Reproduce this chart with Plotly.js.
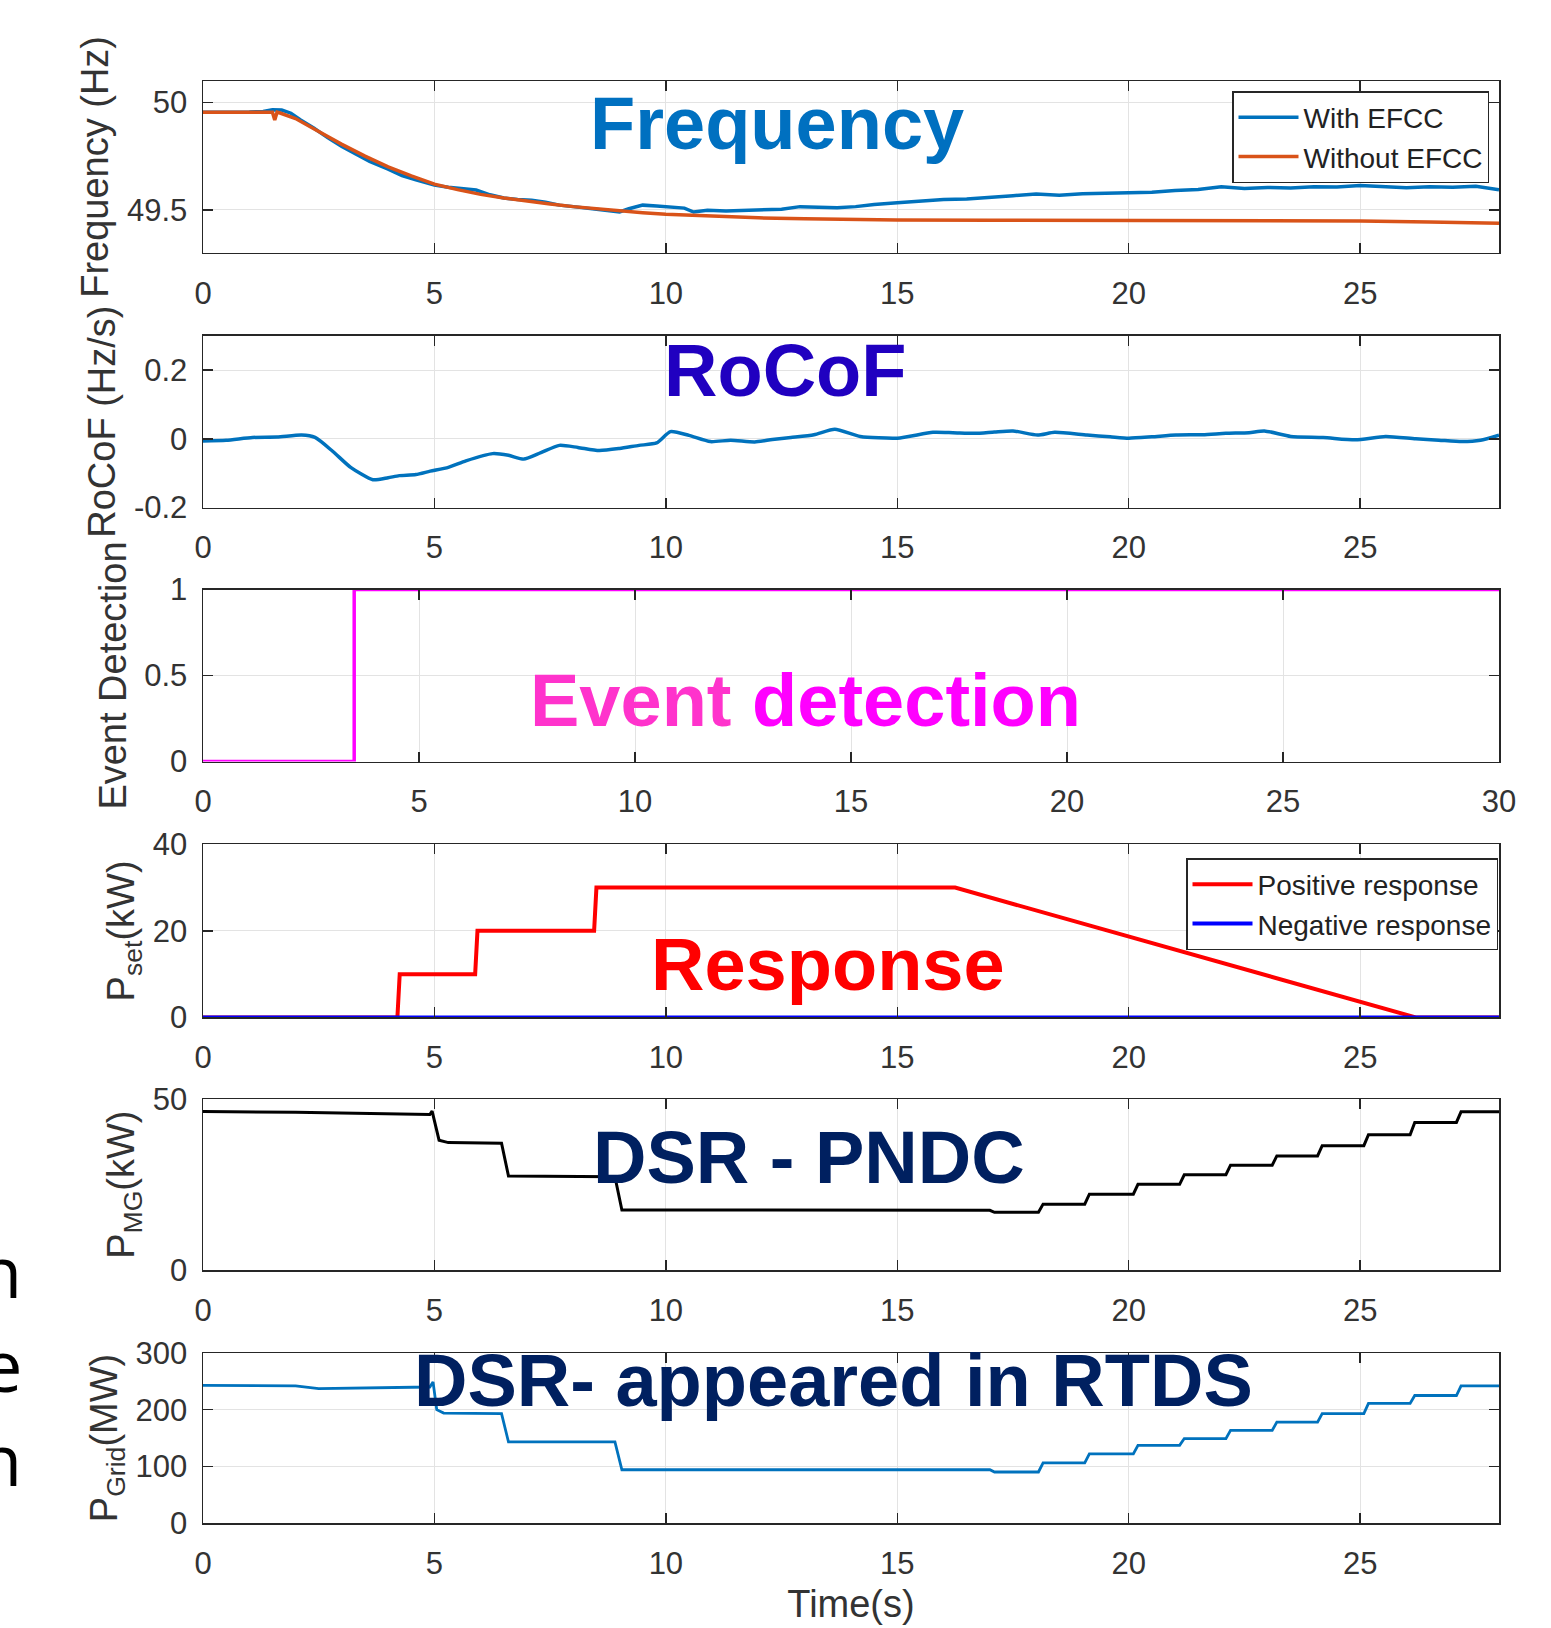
<!DOCTYPE html>
<html><head><meta charset="utf-8">
<script src="https://cdn.plot.ly/plotly-3.0.1.min.js"></script>
<style>html,body{margin:0;padding:0;background:#fff}#chart{width:1551px;height:1628px}</style>
</head><body><div id="chart"></div>
<script>
// ---------------- data ----------------
const freqWithTime = [0,0.5,1.0,1.3,1.5,1.7,1.9,2.1,2.4,2.7,3.0,3.3,3.6,4.0,4.3,4.6,5.0,5.3,5.6,5.9,6.2,6.5,6.8,7.1,7.4,7.7,8.0,8.4,8.8,9.0,9.2,9.5,9.8,10.1,10.4,10.6,10.9,11.3,11.7,12.1,12.5,12.9,13.3,13.7,14.1,14.5,15.0,15.5,16.0,16.5,17.0,17.5,18.0,18.5,19.0,19.5,20.0,20.5,21.0,21.5,22.0,22.5,23.0,23.5,24.0,24.5,25.0,25.5,26.0,26.5,27.0,27.5,28.0];
const freqWith = [49.955,49.954,49.956,49.958,49.966,49.965,49.95,49.92,49.88,49.835,49.795,49.76,49.725,49.69,49.66,49.64,49.615,49.605,49.598,49.592,49.57,49.555,49.548,49.545,49.535,49.522,49.515,49.505,49.495,49.49,49.505,49.522,49.518,49.512,49.508,49.49,49.498,49.495,49.497,49.5,49.503,49.515,49.512,49.51,49.515,49.525,49.533,49.54,49.548,49.55,49.556,49.566,49.574,49.568,49.575,49.578,49.583,49.582,49.59,49.595,49.608,49.6,49.604,49.602,49.608,49.606,49.613,49.606,49.603,49.608,49.605,49.61,49.594];
const freqWithoutTime = [0,0.5,1.0,1.5,1.55,1.6,1.65,2.0,2.5,3.0,3.5,4.0,4.5,5.0,5.5,6.0,6.5,7.0,7.5,8.0,8.5,9.0,9.5,10,11,12,13,14,15,17,20,23,25,26.5,28];
const freqWithout = [49.955,49.955,49.955,49.955,49.918,49.955,49.952,49.925,49.865,49.805,49.75,49.7,49.658,49.62,49.594,49.572,49.555,49.54,49.527,49.515,49.505,49.495,49.487,49.48,49.47,49.463,49.458,49.455,49.453,49.452,49.451,49.45,49.448,49.444,49.438];

const rocofTime = [0,0.5,1.07,1.6,2.13,2.42,2.8,3.19,3.67,4.0,4.24,4.6,4.91,5.3,5.68,6.26,6.6,6.93,7.3,7.7,8.1,8.56,9.0,9.42,9.8,10.1,10.5,10.96,11.4,11.92,12.3,12.7,13.2,13.65,14.2,15.0,15.77,16.2,16.68,17.1,17.5,18.03,18.4,19.1,19.6,20.0,20.5,21.02,21.6,22.1,22.6,22.93,23.5,24.2,24.9,25.55,26.2,26.7,27.2,27.6,28.0];
const rocof = [-0.006,-0.004,0.004,0.005,0.011,0.004,-0.036,-0.083,-0.119,-0.113,-0.107,-0.104,-0.094,-0.083,-0.064,-0.043,-0.048,-0.059,-0.04,-0.019,-0.025,-0.034,-0.028,-0.019,-0.012,0.021,0.01,-0.008,-0.004,-0.009,-0.002,0.004,0.012,0.028,0.007,0.002,0.019,0.018,0.016,0.02,0.023,0.011,0.019,0.011,0.006,0.002,0.006,0.011,0.012,0.016,0.018,0.023,0.007,0.004,-0.003,0.007,0.0,-0.004,-0.008,-0.004,0.011];

const eventTime = [0,3.5,3.5,30];
const eventDetection = [0,0,1,1];

const psetPosTime = [0,4.2,4.25,5.88,5.93,8.45,8.5,16.25,26.2,28];
const psetPositive = [0,0,10,10,20,20,30,30,0,0];
const psetNegTime = [0,28];
const psetNegative = [0,0];

const pmgTime = [0,2,4.9,4.95,5.1,5.3,6.45,6.6,8.9,9.05,12,17.0,17.1,18.05,18.15,19.05,19.15,20.1,20.2,21.1,21.2,22.1,22.2,23.1,23.2,24.08,24.18,25.08,25.18,26.08,26.18,27.08,27.18,28];
const pmg = [46.4,46.2,45.5,46.5,38,37.3,37.1,27.5,27.3,17.6,17.6,17.5,16.9,16.9,19.3,19.3,22.2,22.2,25.1,25.1,27.9,27.9,30.7,30.7,33.4,33.4,36.4,36.4,39.6,39.6,43.2,43.2,46.3,46.3];

const gridTime = [0,2.0,2.5,4.9,4.97,5.05,5.2,6.45,6.6,8.9,9.05,17.0,17.1,18.05,18.15,19.05,19.15,20.1,20.2,21.1,21.2,22.1,22.2,23.1,23.2,24.08,24.18,25.08,25.18,26.08,26.18,27.08,27.18,28];
const pGrid = [243,242,237,240,249,200,194,193,143,143,94,94,90,90,106,106,122,122,137,137,149,149,163.5,163.5,178,178,193,193,211,211,225,225,242,242];

const xTicks = [0,5,10,15,20,25,30];
const freqTicks = [49.5,50];
const rocofTicks = [-0.2,0,0.2];
const rocofTickText = ['-0.2','0','0.2'];
const eventTicks = [0,0.5,1];
const psetTicks = [0,20,40];
const pmgTicks = [0,50];
const gridTicks = [0,100,200,300];

// ---------------- layout helpers ----------------
const W = 1551, H = 1628, L = 203, R = 52, T = 81, B = 105;
const PW = W - L - R, PH = H - T - B;
const px2x = x => (x - L) / PW;
const px2y = y => (H - B - y) / PH;
const panels = [[80.8,252.8],[335.7,507.6],[589.5,761.5],[844.3,1017.4],[1099.2,1270.1],[1353,1523]];
const dom = i => [px2y(panels[i][1]), Math.min(1, px2y(panels[i][0]))];

const FONT = '"Liberation Sans", Arial, Helvetica, sans-serif';
const AX = '#262626';
const GRID = '#E3E3E3';

function xAxis(i, range) {
  const anchor = i === 0 ? 'y' : 'y' + (i + 1);
  return {
    domain: [0, 1], anchor: anchor, range: range,
    tickvals: xTicks, ticks: 'inside', ticklen: 10, tickwidth: 1.5, tickcolor: AX,
    showline: true, linecolor: AX, linewidth: 1.5, mirror: 'ticks',
    showgrid: true, gridcolor: GRID, gridwidth: 1, zeroline: false,
    tickfont: {family: FONT, size: 31, color: '#333'}, ticklabelstandoff: 12
  };
}
function yAxis(i, range, ticks, title, standoff, ticktext) {
  const anchor = i === 0 ? 'x' : 'x' + (i + 1);
  const ax = {
    domain: dom(i), anchor: anchor, range: range,
    tickvals: ticks, ticks: 'inside', ticklen: 10, tickwidth: 1.5, tickcolor: AX,
    showline: true, linecolor: AX, linewidth: 1.5, mirror: 'ticks',
    showgrid: true, gridcolor: GRID, gridwidth: 1, zeroline: false,
    tickfont: {family: FONT, size: 31, color: '#333'}, ticklabelstandoff: 8,
    title: {text: title, font: {family: FONT, size: 38, color: '#333'}, standoff: standoff}
  };
  if (ticktext) ax.ticktext = ticktext;
  return ax;
}

const traces = [
  {x: freqWithTime, y: freqWith, xaxis: 'x', yaxis: 'y', mode: 'lines', name: 'With EFCC',
   line: {color: '#0072BD', width: 3.5}, legend: 'legend'},
  {x: freqWithoutTime, y: freqWithout, xaxis: 'x', yaxis: 'y', mode: 'lines', name: 'Without EFCC',
   line: {color: '#D95319', width: 3.5}, legend: 'legend'},
  {x: rocofTime, y: rocof, xaxis: 'x2', yaxis: 'y2', mode: 'lines', name: 'RoCoF',
   line: {color: '#0072BD', width: 3.5, shape: 'spline', smoothing: 0.6}, showlegend: false},
  {x: eventTime, y: eventDetection, xaxis: 'x3', yaxis: 'y3', mode: 'lines', name: 'Event',
   line: {color: '#FF00FF', width: 3.5}, showlegend: false},
  {x: psetPosTime, y: psetPositive, xaxis: 'x4', yaxis: 'y4', mode: 'lines', name: 'Positive response',
   line: {color: '#FF0000', width: 4}, legend: 'legend2'},
  {x: psetNegTime, y: psetNegative, xaxis: 'x4', yaxis: 'y4', mode: 'lines', name: 'Negative response',
   line: {color: '#0000FF', width: 4}, legend: 'legend2'},
  {x: pmgTime, y: pmg, xaxis: 'x5', yaxis: 'y5', mode: 'lines', name: 'PMG',
   line: {color: '#000000', width: 3}, showlegend: false},
  {x: gridTime, y: pGrid, xaxis: 'x6', yaxis: 'y6', mode: 'lines', name: 'PGrid',
   line: {color: '#0072BD', width: 2.8}, showlegend: false}
];

function label(text, cx, cy, color) {
  return {xref: 'paper', yref: 'paper', x: px2x(cx), y: px2y(cy), xanchor: 'center', yanchor: 'middle',
    text: '<b>' + text + '</b>', showarrow: false,
    font: {family: FONT, size: 74, color: color}};
}
function edge(text, cy) {
  return {xref: 'paper', yref: 'paper', x: px2x(24), y: px2y(cy), xanchor: 'right', yanchor: 'middle',
    text: text, showarrow: false, font: {family: '"Open Sans", "Noto Sans", sans-serif', size: 72, color: '#000'}};
}

const xa6 = xAxis(5, [0, 28]);
xa6.title = {text: 'Time(s)', font: {family: FONT, size: 38, color: '#333'}, standoff: 10};

const legendStyle = {xanchor: 'right', yanchor: 'top', bgcolor: '#fff',
  bordercolor: AX, borderwidth: 1.5, font: {family: FONT, size: 28, color: '#222'}, itemwidth: 60};

const layout = {
  width: W, height: H,
  margin: {l: L, r: R, t: T, b: B, autoexpand: false},
  paper_bgcolor: '#fff', plot_bgcolor: '#fff',
  font: {family: FONT, color: AX},
  xaxis: xAxis(0, [0, 28]), xaxis2: xAxis(1, [0, 28]), xaxis3: xAxis(2, [0, 30]),
  xaxis4: xAxis(3, [0, 28]), xaxis5: xAxis(4, [0, 28]), xaxis6: xa6,
  yaxis: yAxis(0, [49.3, 50.1], freqTicks, 'Frequency (Hz)', 6),
  yaxis2: yAxis(1, [-0.2, 0.3], rocofTicks, 'RoCoF (Hz/s)', 6, rocofTickText),
  yaxis3: yAxis(2, [0, 1], eventTicks, 'Event Detection', 6),
  yaxis4: yAxis(3, [0, 40], psetTicks, 'P<sub>set</sub>(kW)', 6),
  yaxis5: yAxis(4, [0, 50], pmgTicks, 'P<sub>MG</sub>(kW)', 6),
  yaxis6: yAxis(5, [0, 300], gridTicks, 'P<sub>Grid</sub>(MW)', 6),
  legend: Object.assign({x: px2x(1489), y: px2y(91)}, legendStyle),
  legend2: Object.assign({x: px2x(1498), y: px2y(858)}, legendStyle),
  annotations: [
    label('Frequency', 777, 124, '#0070C0'),
    label('RoCoF', 785, 370, '#2000C0'),
    label('<span style="color:#FF33CC">Event</span> detection', 805, 700, '#FF00FF'),
    label('Response', 828, 965, '#FF0000'),
    label('DSR - PNDC', 809, 1157, '#002060'),
    label('DSR- appeared in RTDS', 833, 1380, '#002060'),
    edge('n', 1270), edge('e', 1364), edge('n', 1458)
  ],
  showlegend: true
};

Plotly.newPlot('chart', traces, layout, {staticPlot: true, displayModeBar: false});
</script>
</body></html>
